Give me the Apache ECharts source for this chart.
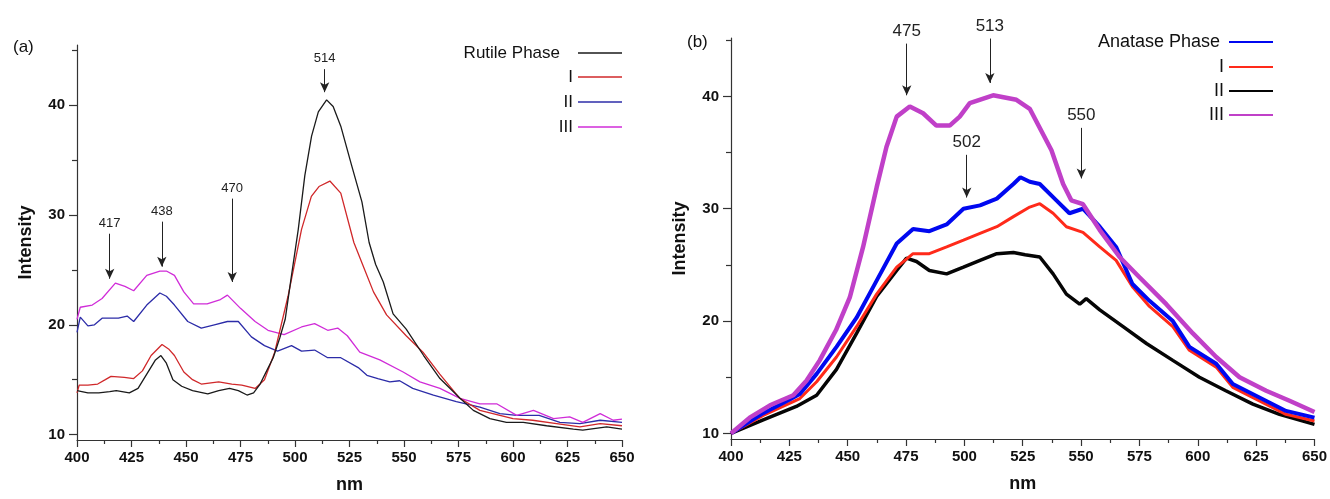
<!DOCTYPE html>
<html><head><meta charset="utf-8">
<script src="https://cdn.jsdelivr.net/npm/echarts@6/dist/echarts.min.js"></script>
<style>html,body{margin:0;padding:0;background:#fff}#c{width:1330px;height:499px}</style>
</head><body><div id="c"></div>
<script>
// ---------- Panel (a) : Rutile ----------
const rutileNm = [400,405,410,415,418,424,428,432,436,438.5,441,444,448,453,460,465,470,474,478,481,484,487,490,493,495.5,498.4,501.5,504.5,507.6,510.7,514.5,517.5,521,526,530.7,534,537,540.5,545,551,559,566.5,575.7,581.8,589.4,597,604.7,615.4,627.7,632,643,650];
const rutileVal = [14.0,13.8,13.8,13.9,14.0,13.8,14.2,15.5,16.8,17.2,16.5,15.0,14.4,14.0,13.7,14.0,14.2,14.0,13.6,13.8,14.6,15.8,17.0,18.8,20.5,24.5,28.7,33.6,37.2,39.4,40.5,39.9,38.1,34.5,31.2,27.5,25.5,23.9,21.0,19.6,17.2,15.1,13.3,12.2,11.45,11.1,11.1,10.8,10.5,10.4,10.7,10.5];

const rIm = [400,401,405,409.5,413,415.6,421.7,426,430,434,439,442,444.7,449,453,457,465,471,475.6,481.7,486,490.7,496.8,503,507.5,511,516,521,527,531,536,542,551,558.7,566.4,575.6,584.8,594,600,609,620,630.7,640,650];
const rIv = [13.8,14.5,14.5,14.6,15.0,15.3,15.2,15.1,15.8,17.2,18.2,17.8,17.2,15.7,15.0,14.6,14.8,14.6,14.5,14.2,15.0,17.5,22.6,28.7,31.7,32.6,33.1,32.0,27.5,25.5,23.0,20.9,19.0,17.5,15.5,13.3,12.2,11.75,11.45,11.3,11.0,10.7,11.0,10.8];

const rIIm = [400,401.5,405,408,411.5,419,423,426,432,438,441,444.7,450.8,457,463,469,474,480,486,492,498.4,503,509,515,521,529,533,538,543.5,548,554,563.5,574,584.8,594,601.7,612,621.5,630.7,640,650];
const rIIv = [19.3,20.7,19.9,20.0,20.6,20.6,20.8,20.3,21.8,22.9,22.6,21.8,20.3,19.7,20.0,20.3,20.3,18.9,18.1,17.6,18.1,17.6,17.7,17.0,17.0,16.1,15.4,15.1,14.8,14.9,14.2,13.6,13.0,12.5,11.9,11.75,11.75,11.1,11.0,11.3,11.1];

const rIIIm = [400,401.5,407,411.5,417.6,422,426,432,438,441,444.7,449,453.5,459.7,465.8,469,475,481.7,487.6,495,503,509,515,519.6,524,529.7,538.9,549.6,557.3,566.5,575.7,584.8,592.5,601.7,609.4,618.6,626,632,640,646,650];
const rIIIv = [20.5,21.6,21.8,22.4,23.8,23.5,23.1,24.5,24.9,24.9,24.5,23.0,21.9,21.9,22.3,22.7,21.5,20.3,19.5,19.1,19.8,20.1,19.5,19.7,19.0,17.5,16.8,15.7,14.8,14.2,13.3,12.8,12.8,11.75,12.2,11.45,11.6,11.1,11.9,11.3,11.4];

// peak annotations (a): label, nm, arrow top, arrow tip
const annoA = [['417',415,28.3,24.2],['438',438.9,29.4,25.3],['470',471.2,31.5,23.9],['514',513.6,43.3,41.2]];

// ---------- Panel (b) : Anatase ----------
const anaNm = [400,413.8,425,429.5,436.7,445.2,453.8,462.4,471,478,485,492.4,499.6,506.7,513.9,521,524,528,532.3,539.4,545,550.8,558,565,572,579.3,589.3,596.4,607.9,615,626.4,637.8,650];
const anaVal = [10.0,11.8,13.0,13.5,15.3,17.7,20.3,23.6,26.9,28.2,28.0,28.6,30.0,30.3,30.9,32.2,32.8,32.4,32.2,30.75,29.6,30.0,28.4,26.6,23.3,21.8,20.0,17.7,16.2,14.4,13.2,12.0,11.4];

const aIm = [400,413.8,429.5,436.7,445.2,453.8,462.4,471,478,485,492.4,499.6,506.7,513.9,521,528,532.3,538,543.7,550.8,558,565,572.2,579.3,589.3,596.4,607.9,615,626.4,637.8,650];
const aIv = [10.0,11.6,13.1,14.6,16.8,19.5,22.4,24.8,26.0,26.0,26.6,27.2,27.8,28.4,29.3,30.15,30.45,29.6,28.4,27.9,26.6,25.4,23.0,21.3,19.5,17.4,15.9,14.1,12.9,11.7,11.1];

const aIIm = [400,413.8,428,436.7,445.2,453.8,462.4,471,475.2,479.5,485,492.4,499.6,506.7,513.9,521,526,532.3,538,543.7,549.4,552.2,558,568,578,589.3,600.7,612,623.6,635,650];
const aIIv = [10.0,11.2,12.4,13.4,15.7,18.9,22.2,24.5,25.6,25.3,24.5,24.2,24.8,25.4,26.0,26.1,25.9,25.7,24.2,22.4,21.5,22.0,21.0,19.5,18.0,16.5,15.0,13.8,12.6,11.7,10.8];

const aIIIm = [400,408,416.7,426.7,432.4,438,445,450.9,456.6,462.4,466.6,471,476.6,482.3,488,493.7,498,502.3,512.3,522.3,528,537.3,542.3,545.8,550.8,558,566.5,575,586.5,597.9,607.9,617.9,629.3,639.3,650];
const aIIIv = [10.0,11.4,12.5,13.4,14.7,16.5,19.2,22.1,26.6,31.9,35.5,38.2,39.1,38.5,37.4,37.4,38.2,39.4,40.1,39.7,38.9,35.2,32.2,30.75,30.4,28.1,25.7,23.9,21.5,18.9,16.8,15.0,13.8,12.9,11.9];

const annoB = [['475',475.3,44.7,40.1],['513',510.9,45.15,41.2],['502',501,34.8,31.0],['550',550.1,37.2,32.7]];

// tick labels
const xTicks = [400,650,25];
const yMajor = [10,20,30,40];
const yMinor = [15,25,35,45];

const zip = (a,b) => a.map((x,i)=>[x,b[i]]);
const AX = '#333';
const TXT = '#111';
const FONT = 'Liberation Sans, Arial, sans-serif';

function xAx(g){
  return {gridIndex:g,type:'value',min:xTicks[0],max:xTicks[1],interval:xTicks[2],
    name:'nm',nameLocation:'middle',nameGap:36,
    nameTextStyle:{fontSize:18,fontWeight:'bold',color:TXT,fontFamily:FONT},
    axisLine:{show:true,onZero:false,lineStyle:{color:AX,width:1.2}},
    axisTick:{show:true,length:7,lineStyle:{color:AX,width:1.2}},
    minorTick:{show:true,splitNumber:2,length:4,lineStyle:{color:AX,width:1.2}},
    axisLabel:{fontSize:15,fontWeight:'bold',color:TXT,margin:10,fontFamily:FONT},
    splitLine:{show:false},minorSplitLine:{show:false}};
}
function yAxes(g,mn,mx){
  return [{gridIndex:g,type:'value',min:mn,max:mx,position:'left',
    name:'Intensity',nameLocation:'middle',nameGap:42,nameRotate:90,
    nameTextStyle:{fontSize:18,fontWeight:'bold',color:TXT,fontFamily:FONT},
    axisLine:{show:true,onZero:false,lineStyle:{color:AX,width:1.2}},
    axisTick:{show:true,length:8,customValues:yMajor,lineStyle:{color:AX,width:1.2}},
    axisLabel:{show:true,customValues:yMajor,fontSize:15,fontWeight:'bold',color:TXT,margin:12,fontFamily:FONT},
    splitLine:{show:false}},
   {gridIndex:g,type:'value',min:mn,max:mx,position:'left',
    axisLine:{show:false},
    axisTick:{show:true,length:5,customValues:yMinor,lineStyle:{color:AX,width:1.2}},
    axisLabel:{show:false},splitLine:{show:false}}];
}
function ln(name,x,y,g,color,w,extra){
  return Object.assign({name:name,type:'line',xAxisIndex:g,yAxisIndex:g*2,data:zip(x,y),
    symbol:'none',showSymbol:false,smooth:false,animation:false,
    lineStyle:{color:color,width:w},itemStyle:{color:color}},extra||{});
}
function marks(list,fs,dist){
  return {silent:true,animation:false,symbol:['none','arrow'],symbolSize:9,
    lineStyle:{color:'#222',width:1,type:'solid'},
    label:{show:true,position:'start',fontSize:fs,color:'#222',fontFamily:FONT,distance:dist},
    data:list.map(a=>[
      {coord:[a[1],a[2]],name:a[0],symbol:'none',label:{formatter:a[0]}},
      {coord:[a[1],a[3]],symbol:'arrow',symbolSize:[7,10]}])};
}
const strip = n => n.slice(2);
function legend(names,right,top,fs,width,gap,pad,h){
  const o = {orient:'vertical',right:right,top:top,align:'right',data:names,formatter:strip,
    selectedMode:false,icon:'rect',itemWidth:44,itemHeight:h,itemGap:gap,padding:0,
    textStyle:{fontSize:fs,color:TXT,fontFamily:FONT,lineHeight:18}};
  if(width){o.textStyle.width=width;o.textStyle.align='center';}
  if(pad){o.textStyle.padding=[0,pad,0,0];}
  return o;
}

const option = {
  backgroundColor:'#fff',
  animation:false,
  title:[{text:'(a)',left:8,top:34,textStyle:{fontSize:17,fontWeight:'normal',color:TXT,fontFamily:FONT}},
         {text:'(b)',left:682,top:29,textStyle:{fontSize:17,fontWeight:'normal',color:TXT,fontFamily:FONT}}],
  grid:[{left:77,top:45,width:545,height:396},{left:731,top:38,width:584,height:401}],
  xAxis:[xAx(0),xAx(1)],
  yAxis:[...yAxes(0,9.5,45.5),...yAxes(1,9.5,45.2)],
  legend:[legend(['a:Rutile Phase'],708,44,17,0,7,13,1.5),
          legend(['a:I','a:II','a:III'],708,68,17,94,7,0,1.5),
          legend(['b:Anatase Phase'],57,33,18,0,6,4,2),
          legend(['b:I','b:II','b:III'],57,58,18,76,6,0,2)],
  series:[
    ln('a:II',rIIm,rIIv,0,'#2c2ca8',1.3),
    ln('a:III',rIIIm,rIIIv,0,'#d02cd8',1.3),
    ln('a:I',rIm,rIv,0,'#d0282a',1.3),
    ln('a:Rutile Phase',rutileNm,rutileVal,0,'#1a1a1a',1.3,{clip:false,markLine:marks(annoA,13,4)}),
    ln('b:II',aIIm,aIIv,1,'#050505',3.5),
    ln('b:I',aIm,aIv,1,'#ff2a1a',3),
    ln('b:Anatase Phase',anaNm,anaVal,1,'#0008f0',4),
    ln('b:III',aIIIm,aIIIv,1,'#c040c8',4.5,{clip:false,markLine:marks(annoB,17,4)})
  ]
};
const chart = echarts.init(document.getElementById('c'),null,{renderer:'canvas'});
chart.setOption(option);
</script></body></html>
